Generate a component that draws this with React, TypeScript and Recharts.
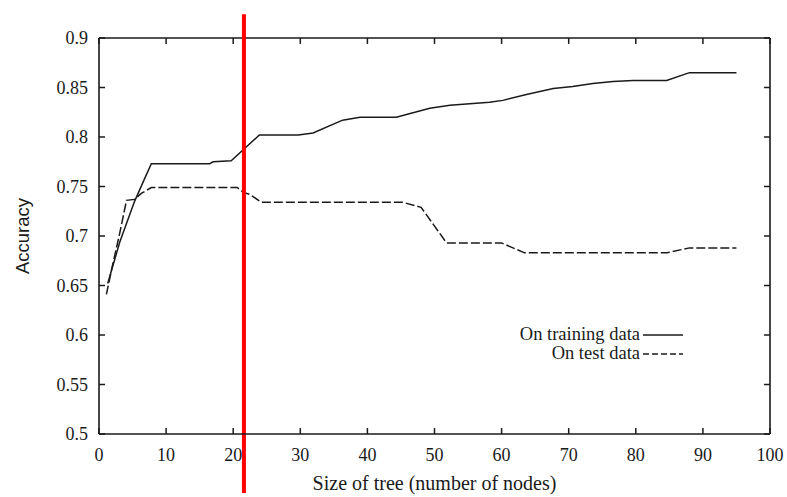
import React from 'react';
import { LineChart, Line, XAxis, YAxis, ReferenceLine } from 'recharts';

// tree size (number of nodes) vs accuracy
const trainSizes = [1.3, 3.1, 5.3, 6.8, 7.8, 16.5, 17, 19.7, 23.9, 29.7, 31.9, 36.3, 38.9, 44.3, 49.3, 52.3, 58.2, 60.2, 63.7, 67.7, 70.6, 73.6, 76.6, 79.6, 84.6, 88, 95];
const trainAcc = [0.652, 0.694, 0.735, 0.758, 0.773, 0.773, 0.775, 0.776, 0.802, 0.802, 0.804, 0.817, 0.82, 0.82, 0.829, 0.832, 0.835, 0.837, 0.843, 0.849, 0.851, 0.854, 0.856, 0.857, 0.857, 0.865, 0.865];

const testSizes = [1.1, 2, 3, 4.1, 5.3, 6.3, 7.8, 20.6, 21.5, 22.5, 24.2, 45.3, 48, 51.8, 60, 63.4, 84.6, 88, 95];
const testAcc = [0.641, 0.67, 0.7, 0.736, 0.737, 0.743, 0.749, 0.749, 0.744, 0.742, 0.734, 0.734, 0.729, 0.693, 0.693, 0.683, 0.683, 0.688, 0.688];

const xTicks = [0, 10, 20, 30, 40, 50, 60, 70, 80, 90, 100];
const yTicks = [0.5, 0.55, 0.6, 0.65, 0.7, 0.75, 0.8, 0.85, 0.9];

const cutoffSize = 21.6;

const trainData = trainSizes.map((s, i) => ({ size: s, acc: trainAcc[i] }));
const testData = testSizes.map((s, i) => ({ size: s, acc: testAcc[i] }));

const X_MIN = 0, X_MAX = 100, Y_MIN = 0.5, Y_MAX = 0.9;
// inward tick length (~6px) expressed in data units of each axis
const X_TICK_LEN = 0.9;
const Y_TICK_LEN = 0.006;

const serif = '"Liberation Serif", "Times New Roman", serif';
const ink = '#1a1a1a';

function LegendBox() {
  const row = { display: 'flex', alignItems: 'center', justifyContent: 'flex-end', height: 19 };
  return (
    <div style={{ position: 'absolute', left: 466, top: 325, width: 220, fontFamily: serif, fontSize: 18.5, lineHeight: '19px', color: ink }}>
      <div style={row}>
        <span>On training data</span>
        <svg width={43} height={10} style={{ marginLeft: 3 }}>
          <line x1={0} y1={5} x2={40} y2={5} stroke={ink} strokeWidth={1.6} />
        </svg>
      </div>
      <div style={row}>
        <span>On test data</span>
        <svg width={43} height={10} style={{ marginLeft: 3 }}>
          <line x1={0} y1={5} x2={40} y2={5} stroke={ink} strokeWidth={1.6} strokeDasharray="6 3" />
        </svg>
      </div>
    </div>
  );
}

export default function App() {
  const axisLine = { stroke: ink, strokeWidth: 1.6 };
  const tickFont = { fontFamily: serif, fontSize: 18, fill: ink };
  const tickProps = { stroke: ink, strokeWidth: 1.5, ifOverflow: 'visible' as const };
  return (
    <div style={{ position: 'absolute', left: 0, top: 0, width: 787, height: 497, background: '#fff' }}>
      <LineChart width={787} height={497} margin={{ top: 38, right: 17, bottom: 3, left: 0 }}>
        <XAxis
          dataKey="size"
          type="number"
          domain={[X_MIN, X_MAX]}
          ticks={xTicks}
          allowDataOverflow
          height={60}
          tickSize={0}
          tickMargin={14}
          tickLine={false}
          tick={tickFont}
          axisLine={axisLine}
          label={{ value: 'Size of tree (number of nodes)', position: 'insideBottom', offset: 4, style: { fontFamily: serif, fontSize: 20, fill: ink } }}
        />
        <YAxis
          type="number"
          domain={[Y_MIN, Y_MAX]}
          ticks={yTicks}
          allowDataOverflow
          width={99}
          tickSize={0}
          tickMargin={11}
          tickLine={false}
          tick={tickFont}
          axisLine={axisLine}
          label={{
            content: (props: any) => {
              const vb = props.viewBox || { y: 38, height: 396 };
              const cy = vb.y + vb.height / 2;
              return (
                <text x={22} y={cy} transform={`rotate(-90 22 ${cy})`} textAnchor="middle" dominantBaseline="central"
                  style={{ fontFamily: '"Liberation Sans", Arial, sans-serif', fontSize: 18.5, fill: ink }}>
                  Accuracy
                </text>
              );
            },
          }}
        />

        {/* closed frame: top and right borders */}
        <ReferenceLine y={Y_MAX} stroke={ink} strokeWidth={1.6} ifOverflow="visible" />
        <ReferenceLine x={X_MAX} stroke={ink} strokeWidth={1.6} ifOverflow="visible" />

        {/* gnuplot style inward ticks on all four sides */}
        {xTicks.map((t) => (
          <ReferenceLine key={`xb${t}`} segment={[{ x: t, y: Y_MIN }, { x: t, y: Y_MIN + Y_TICK_LEN }]} {...tickProps} />
        ))}
        {xTicks.map((t) => (
          <ReferenceLine key={`xt${t}`} segment={[{ x: t, y: Y_MAX }, { x: t, y: Y_MAX - Y_TICK_LEN }]} {...tickProps} />
        ))}
        {yTicks.map((t) => (
          <ReferenceLine key={`yl${t}`} segment={[{ x: X_MIN, y: t }, { x: X_MIN + X_TICK_LEN, y: t }]} {...tickProps} />
        ))}
        {yTicks.map((t) => (
          <ReferenceLine key={`yr${t}`} segment={[{ x: X_MAX, y: t }, { x: X_MAX - X_TICK_LEN, y: t }]} {...tickProps} />
        ))}

        <Line data={trainData} dataKey="acc" name="On training data" type="linear" stroke={ink} strokeWidth={1.5} dot={false} isAnimationActive={false} />
        <Line data={testData} dataKey="acc" name="On test data" type="linear" stroke={ink} strokeWidth={1.5} strokeDasharray="9 3" dot={false} isAnimationActive={false} />
        <ReferenceLine
          segment={[{ x: cutoffSize, y: 0.924 }, { x: cutoffSize, y: 0.4405 }]}
          ifOverflow="visible"
          stroke="#ff0000"
          strokeWidth={4}
        />
      </LineChart>
      <LegendBox />
    </div>
  );
}
